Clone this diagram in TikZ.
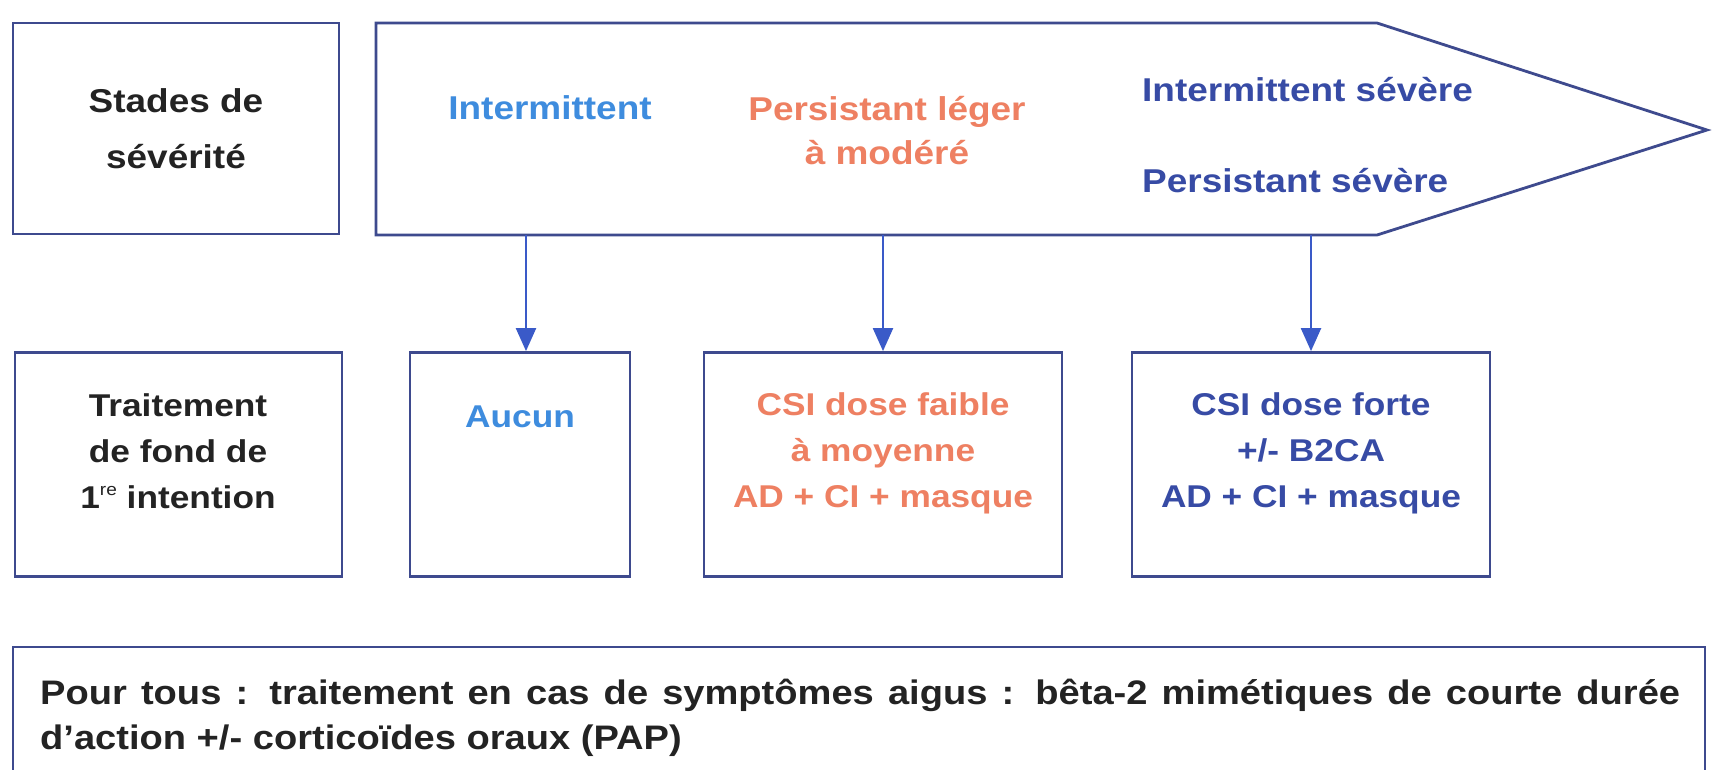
\documentclass[tikz,border=0pt]{standalone}
\usepackage{fontspec}
\setmainfont[FakeStretch=1.12]{Liberation Sans}
\usetikzlibrary{arrows.meta}
\definecolor{bordernavy}{RGB}{62,74,142}
\definecolor{arrowblue}{RGB}{58,90,200}
\definecolor{lightblue}{RGB}{62,140,222}
\definecolor{salmon}{RGB}{238,128,98}
\definecolor{darkblue}{RGB}{55,75,165}
\definecolor{textblack}{RGB}{35,35,35}
\newcommand{\supre}{\raisebox{13pt}{\mdseries\fontsize{17}{17}\selectfont re}}
\tikzset{
  box/.style={draw=bordernavy, line width=2.8pt, inner sep=0pt},
  toplabel/.style={inner sep=0pt, align=center, font=\bfseries\fontsize{33}{55}\selectfont},
  botlabel/.style={inner sep=0pt, align=center, font=\bfseries\fontsize{31.5}{46}\selectfont},
  conn/.style={draw=arrowblue, line width=2.2pt, -{Triangle[width=20pt,length=23pt]}},
}
\begin{document}
\begin{tikzpicture}[x=1pt,y=-1pt]
\path[use as bounding box, fill=white] (0,0) rectangle (1712,769);
\clip (0,0) rectangle (1712,769);
% top row
\node[box, minimum width=326pt, minimum height=211pt] (stadesbox) at (176,128.5) {};
\draw[bordernavy, line width=2.8pt, line join=miter]
  (376,23) coordinate (atl) -- (1377,23) -- (1707,130) coordinate (atip) -- (1377,235) -- (376,235) coordinate (abl) -- cycle;
\coordinate (s1) at (526,235);
\coordinate (s2) at (883,235);
\coordinate (s3) at (1311,235);
\node[toplabel, text=textblack] (stades) at (176,128.7) {Stades de\\sévérité};
\node[toplabel, text=lightblue, anchor=base] (inter) at (550,119) {Intermittent};
\node[toplabel, text=salmon, font=\bfseries\fontsize{33}{44}\selectfont] (persleg) at (887,131) {Persistant léger\\à modéré};
\node[toplabel, text=darkblue, anchor=base west] (intsev) at (1142,101) {Intermittent sévère};
\node[toplabel, text=darkblue, anchor=base west] (perssev) at (1142,192) {Persistant sévère};
% second row
\node[box, minimum width=327pt, minimum height=224pt] (traitbox) at (178.5,464.5) {};
\node[box, minimum width=220pt, minimum height=224pt] (aucunbox) at (520,464.5) {};
\node[box, minimum width=358pt, minimum height=224pt] (faiblebox) at (883,464.5) {};
\node[box, minimum width=358pt, minimum height=224pt] (fortebox) at (1311,464.5) {};
\node[botlabel, text=textblack] (trait) at (178,451) {Traitement\\de fond de\\1\supre\ intention};
\node[botlabel, text=lightblue, anchor=base] (aucun) at (520,427) {Aucun};
\node[botlabel, text=salmon] (faible) at (883,453) {CSI dose faible\\à moyenne\\AD + CI + masque};
\node[botlabel, text=darkblue] (forte) at (1311,453) {CSI dose forte\\+/- B2CA\\AD + CI + masque};
% connectors
\draw[conn] (s1) -- (s1 |- aucunbox.north);
\draw[conn] (s2) -- (faiblebox.north);
\draw[conn] (s3) -- (fortebox.north);
% bottom box
\draw[bordernavy, line width=2.8pt] (13,780) coordinate (bbl) -- (13,647) coordinate (btl) -- (1705,647) coordinate (btr) -- (1705,780);
\node[inner sep=0pt, anchor=north west, text width=1640pt, align=justify, text=textblack,
  font=\bfseries\fontsize{34}{45}\selectfont] (pourtous) at (40,679)
  {Pour tous : traitement en cas de symptômes aigus : bêta-2 mimétiques de courte durée d’action +/- corticoïdes oraux (PAP)};
\end{tikzpicture}
\end{document}
